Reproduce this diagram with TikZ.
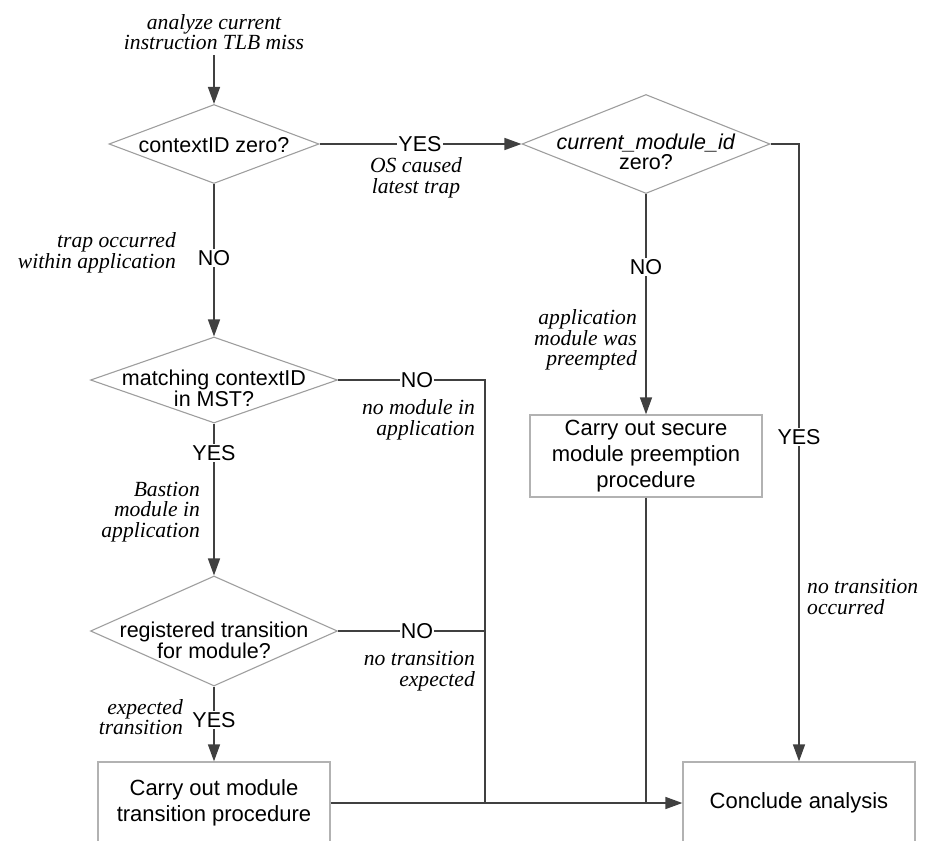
\documentclass[tikz,border=0pt]{standalone}
\usepackage{fontspec}
\setmainfont{Liberation Serif}
\setsansfont{Liberation Sans}
\usetikzlibrary{shapes.geometric,arrows.meta}

\tikzset{
  decision/.style={shape=diamond, draw=black!38, line width=1.1pt, inner sep=0pt},
  question/.style={inner sep=0pt, align=center, font=\sffamily\fontsize{21.5}{19.5}\selectfont},
  process/.style={draw=black!30, line width=1.3pt, minimum width=232pt,
    minimum height=82pt, inner sep=0pt, align=center,
    font=\sffamily\fontsize{22}{26}\selectfont},
  answer/.style={fill=white, inner sep=1pt, font=\sffamily\fontsize{21.5}{22}\selectfont},
  note/.style={inner sep=0pt, font=\itshape\fontsize{21.6}{20.6}\selectfont},
  flow/.style={draw=black!75, line width=1.5pt},
  tip/.style={-{Triangle[length=17pt,width=12pt]}},
}

\begin{document}
\begin{tikzpicture}[x=1pt, y=-1pt]
  \useasboundingbox (0,0) rectangle (925,840);

  % decisions: the outline, then the question inside it
  \node[decision, minimum width=210pt, minimum height=79pt] (d1) at (214,144) {};
  \node[question] (q1) at (214,145) {contextID zero?};
  \node[decision, minimum width=248pt, minimum height=99pt] (d2) at (646,144) {};
  \node[question] (q2) at (646,152) {\textit{current\_module\_id}\\zero?};
  \node[decision, minimum width=247pt, minimum height=86pt] (d3) at (214,380) {};
  \node[question] (q3) at (214,388) {matching contextID\\in MST?};
  \node[decision, minimum width=247pt, minimum height=110pt] (d4) at (214,631) {};
  \node[question] (q4) at (214,640) {registered transition\\for module?};

  % procedures
  \node[process] (pre) at (646,456) {Carry out secure\\module preemption\\procedure};
  \node[process] (trans) at (214,803) {\raisebox{-3pt}{\parbox{232pt}{\centering Carry out module\\transition procedure}}};
  \node[process] (end) at (799,803) {Conclude analysis};

  % entry
  \node[note, align=center] (start) at (214,32) {analyze current\\instruction TLB miss};
  \coordinate (s0) at (214,55);
  \draw[flow, tip] (s0) -- (d1.north);

  % contextID zero?
  \draw[flow, tip] (d1.east) -- (d2.west);
  \node[answer] (y1) at (420,144) {YES};
  \node[note, align=center] (n1) at (416,178) {OS caused\\latest trap};

  \draw[flow, tip] (d1.south) -- (d3.north);
  \node[answer] (no1) at (214,258) {NO};
  \node[note, align=right, anchor=east] (n2) at (176,253) {trap occurred\\within application};

  % current_module_id zero?
  \coordinate (c2) at (799,144);
  \draw[flow, tip] (d2.east) -- (c2) -- (end.north);
  \node[answer] (y2) at (799,437) {YES};
  \node[note, align=left, anchor=west] (n3) at (807,597) {no transition\\occurred};

  \draw[flow, tip] (d2.south) -- (pre.north);
  \node[answer] (no2) at (646,267) {NO};
  \node[note, align=right, anchor=east] (n4) at (637,340) {application\\module was\\preempted};

  % matching contextID in MST?
  \coordinate (c3) at (485,380);
  \coordinate (c4) at (485,631);
  \coordinate (j1) at (485,803);
  \coordinate (j2) at (646,803);
  \draw[flow] (d3.east) -- (c3) -- (j1);
  \node[answer] (no3) at (417,380) {NO};
  \node[note, align=right, anchor=east] (n5) at (475,420) {no module in\\application};

  \draw[flow, tip] (d3.south) -- (d4.north);
  \node[answer] (y3) at (214,453) {YES};
  \node[note, align=right, anchor=east] (n6) at (200,512) {Bastion\\module in\\application};

  % registered transition for module?
  \draw[flow] (d4.east) -- (c4);
  \node[answer] (no4) at (417,631) {NO};
  \node[note, align=right, anchor=east] (n7) at (475,671) {no transition\\expected};

  \draw[flow, tip] (d4.south) -- (trans.north);
  \node[answer] (y4) at (214,720) {YES};
  \node[note, align=right, anchor=east] (n8) at (183,717) {expected\\transition};

  % merge into the conclusion
  \draw[flow] (pre.south) -- (j2);
  \draw[flow, tip] (trans.east) -- (end.west);
\end{tikzpicture}
\end{document}
